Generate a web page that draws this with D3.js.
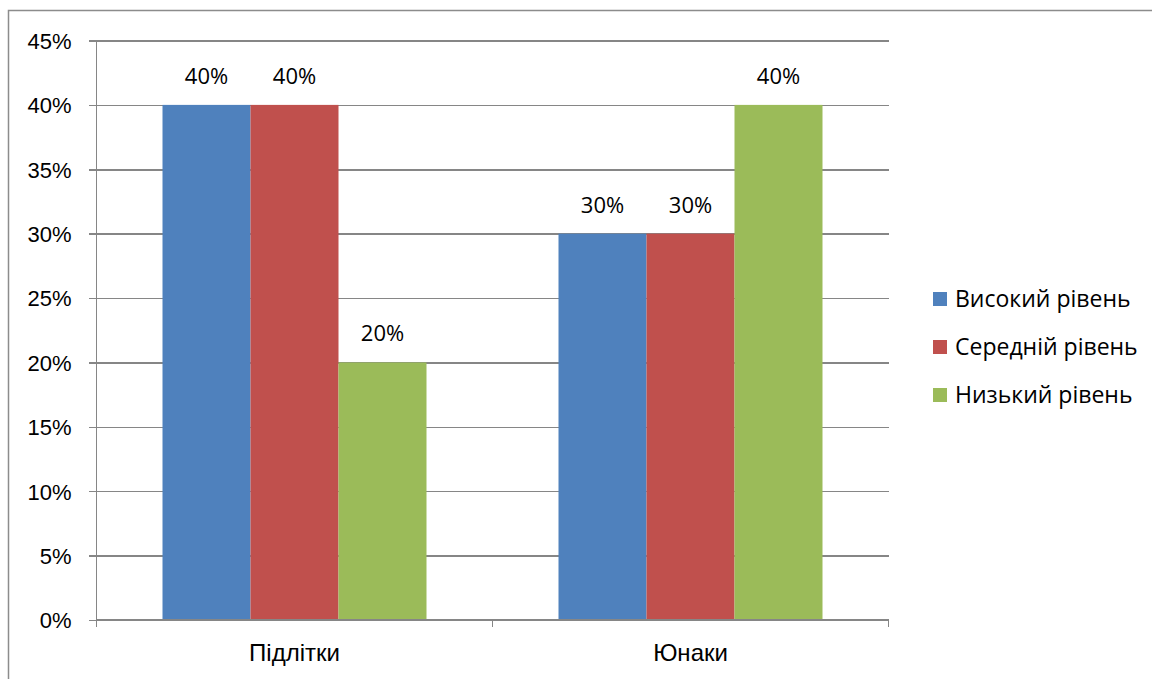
<!DOCTYPE html>
<html lang="uk">
<head>
  <meta charset="UTF-8" />
  <title>Рівні за групами</title>
  <style>
    body { margin: 0; background: #fff; }
    svg { display: block; font-family: 'Open Sans', sans-serif; }
    .grid line { stroke: #868686; stroke-width: 1.5px; shape-rendering: crispEdges; }
    .grid path { display: none; }
    .axis path, .axis line { stroke: #868686; stroke-width: 1.5px; shape-rendering: crispEdges; }
    .axis text { fill: #000; font-size: 22px; }
    .axis.cat text { font-size: 24px; }
    .lbl { fill: #000; font-size: 22px; text-anchor: middle; }
    .legend text { fill: #000; font-size: 23px; }
  </style>
</head>
<body>
  <svg width="1152" height="679"></svg>
  <script src="https://d3js.org/d3.v7.min.js"></script>
  <script>
    // --- chart data
    const categories = ["Підлітки", "Юнаки"];
    const seriesNames = ["Високий рівень", "Середній рівень", "Низький рівень"];
    const seriesColors = ["#4F81BD", "#C0504D", "#9BBB59"];
    const high = [0.40, 0.30];
    const middle = [0.40, 0.30];
    const low = [0.20, 0.40];
    const yTicks = [0, 0.05, 0.10, 0.15, 0.20, 0.25, 0.30, 0.35, 0.40, 0.45];

    const seriesValues = [high, middle, low];

    const svg = d3.select("svg");

    // outer chart border (left + top visible)
    svg.append("path")
      .attr("d", "M8.5,679 V10.5 H1152")
      .attr("fill", "none").attr("stroke", "#8c8c8c").attr("stroke-width", 1.5);

    const margin = { top: 40.5, left: 96.5 };
    const width = 792, height = 579.5;
    const g = svg.append("g").attr("transform", `translate(${margin.left},${margin.top})`);

    const x0 = d3.scaleBand().domain(categories).range([0, width]).paddingInner(1/3).paddingOuter(1/6);
    const x1 = d3.scaleBand().domain(seriesNames).range([0, x0.bandwidth()]);
    const y = d3.scaleLinear().domain([0, 0.45]).range([height, 0]);

    // gridlines
    g.append("g").attr("class", "grid")
      .call(d3.axisLeft(y).tickValues(yTicks.slice(1)).tickSize(-width).tickFormat(""));

    // bars
    const groups = g.selectAll(".grp").data(categories).join("g")
      .attr("class", "grp")
      .attr("transform", d => `translate(${x0(d)},0)`);

    groups.selectAll("rect")
      .data((c, ci) => seriesNames.map((s, si) => ({ s, si, v: seriesValues[si][ci] })))
      .join("rect")
      .attr("x", d => x1(d.s))
      .attr("width", x1.bandwidth())
      .attr("y", d => y(d.v))
      .attr("height", d => height - y(d.v))
      .attr("fill", d => seriesColors[d.si]);

    groups.selectAll(".lbl")
      .data((c, ci) => seriesNames.map((s, si) => ({ s, si, v: seriesValues[si][ci] })))
      .join("text")
      .attr("class", "lbl")
      .attr("x", d => x1(d.s) + x1.bandwidth() / 2)
      .attr("y", d => y(d.v) - 21)
      .text(d => d3.format(".0%")(d.v));

    // axes
    const yAxis = g.append("g").attr("class", "axis")
      .call(d3.axisLeft(y).tickValues(yTicks).tickSize(8).tickPadding(17).tickFormat(d3.format(".0%")));
    yAxis.select(".domain").attr("d", `M0,${height + 7}V0`);
    yAxis.selectAll("text").attr("dy", "0.36em");

    const catScale = d3.scaleBand().domain(categories).range([0, width]);
    const xAxis = g.append("g").attr("class", "axis cat")
      .attr("transform", `translate(0,${height})`)
      .call(d3.axisBottom(catScale).tickSize(0).tickPadding(24));
    xAxis.select(".domain").attr("d", `M0,0H${width}`);
    xAxis.selectAll("text").attr("dy", "0.71em");
    // tick marks at category boundaries
    xAxis.selectAll(".bnd").data([0, 1, 2]).join("line")
      .attr("class", "bnd")
      .attr("x1", i => i * catScale.step()).attr("x2", i => i * catScale.step())
      .attr("y1", 0).attr("y2", 7)
      .attr("stroke", "#868686").attr("stroke-width", 1.5);

    // legend
    const legend = svg.append("g").attr("class", "legend")
      .attr("transform", "translate(933,292)");
    const item = legend.selectAll("g").data(seriesNames).join("g")
      .attr("transform", (d, i) => `translate(0,${i * 48})`);
    item.append("rect").attr("width", 14).attr("height", 14)
      .attr("fill", (d, i) => seriesColors[i]);
    item.append("text").attr("x", 22).attr("y", 7).attr("dy", "0.36em").text(d => d);
  </script>
</body>
</html>
